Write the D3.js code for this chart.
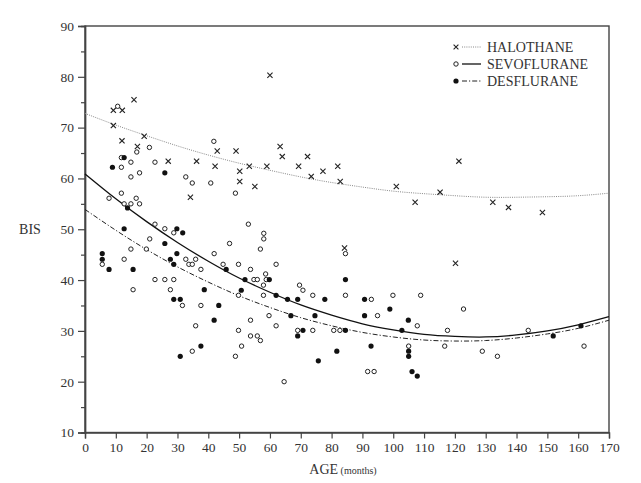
<!DOCTYPE html>
<html><head><meta charset="utf-8">
<script src="https://cdn.jsdelivr.net/npm/d3@7"></script>
<style>body{margin:0;background:#fff}</style>
</head><body><svg id="c" width="641" height="483"></svg>
<script>
const xTicks = [0,10,20,30,40,50,60,70,80,90,100,110,120,130,140,150,160,170];
const yTicks = [10,20,30,40,50,60,70,80,90];
const yMinorTicks = [15,25,35,45,55,65,75,85];
const seriesNames = ["HALOTHANE","SEVOFLURANE","DESFLURANE"];

const halothaneAge = [15.9,9.2,12.1,9.2,12,19.2,42.9,17,27,36.2,42.2,60,49,63.3,64,72.2,53.3,59,69.3,82,50.2,77.2,73.4,50.2,55.1,82.8,101,121.3,132.3,137.4,148.4,115.2,107.1,84.2,120.2,34.2];
const halothaneBIS = [75.5,73.4,73.4,70.4,67.4,68.3,65.4,66.3,63.4,63.4,62.4,80.3,65.4,66.3,64.3,64.3,62.4,62.4,62.4,62.4,61.4,61.4,60.4,59.4,58.4,59.4,58.4,63.4,55.3,54.3,53.3,57.3,55.3,46.3,43.3,56.3];

const sevoAge = [10.6,41.8,20.9,16.8,11.8,14.9,22.7,11.8,17.7,14.9,32.7,34.8,40.8,48.8,11.8,7.8,12.7,16.6,14.9,17.7,22.7,25.9,28.8,21,14.9,19.9,41.9,12.7,32.7,35.9,5.6,33.7,34.8,37.6,22.7,25.9,28.8,15.6,27.7,31.6,37.6,53,58,58,46.9,56.9,44.8,49.8,62,53.7,58.6,54.8,55.9,58.8,57.9,69.6,70.7,49.8,57.9,73.9,84.5,84.5,92.9,99.9,108.9,122.8,35.9,34.8,53.7,59.7,49.8,62,69,73.9,80.7,82.7,53.7,55.9,56.9,50.8,48.8,64.6,94.9,107.8,117.6,105,116.7,91.7,93.8,128.9,133.8,143.8,161.9];
const sevoBIS = [74.2,67.3,66.1,65.2,64.1,63.2,63.2,62.2,61.1,60.3,60.3,59.1,59.1,57.1,57.1,56.1,55.0,56.1,55.0,55.0,51.0,50.1,49.3,48.1,46.1,46.1,45.2,44.1,44.1,44.1,43.1,43.1,43.1,42.1,40.1,40.1,40.1,38.1,38.1,35.0,35.0,51.0,49.2,48.1,47.2,46.1,43.1,43.1,43.1,42.1,41.2,40.1,40.1,40.1,39.0,39.0,38.0,37.0,37.0,37.0,45.2,37.0,36.2,37.0,37.0,34.3,31.0,26.0,32.1,33.0,30.1,31.0,30.1,30.1,30.1,30.1,29.0,29.0,28.1,27.0,25.0,20.0,33.0,31.0,30.1,27.0,27.0,22.0,22.0,26.0,25.0,30.1,27.0];

const desAge = [12.7,8.9,25.9,13.8,12.7,29.8,31.7,25.9,5.6,29.8,5.6,27.7,28.8,7.8,15.6,38.7,28.8,30.9,43.4,45.8,51.9,59.8,50.7,62,65.7,69,77.8,84.5,90.7,98.9,41.9,37.6,30.9,66.8,74.6,70.7,69,81.7,75.7,90.7,104.9,84.5,102.8,92.8,105,105,106.1,107.8,151.9,160.9];
const desBIS = [64.1,62.2,61.1,54.2,50.1,50.1,49.3,47.2,45.2,45.2,44.1,44.1,43.1,42.1,42.1,38.1,36.2,36.2,35.0,42.1,40.1,40.1,38.0,37.0,36.2,36.2,36.2,40.1,36.2,34.3,32.1,27.0,25.0,33.0,33.0,30.1,29.0,26.0,24.1,33.0,32.1,30.1,30.1,27.0,26.0,25.0,22.0,21.1,29.0,31.0];

const fitAge = [0,10,20,30,40,50,60,70,80,90,100,110,120,130,140,150,160,170];
const halothaneFit = [72.8,70.5,68.4,66.4,64.6,63.0,61.6,60.3,59.2,58.3,57.5,57.0,56.6,56.3,56.3,56.4,56.6,57.1];
const sevoFit = [60.9,56.0,51.5,47.4,43.7,40.4,37.6,35.1,33.1,31.4,30.2,29.3,28.9,28.8,29.2,30.0,31.2,32.8];
const desFit = [53.9,49.8,46.0,42.6,39.6,36.9,34.6,32.6,31.0,29.7,28.8,28.2,28.0,28.1,28.6,29.4,30.5,32.1];

const svg = d3.select("#c");
const L=85, R=609, T=26, B=432.5;
const x = d3.scaleLinear().domain([0,170]).range([L,R]);
const y = d3.scaleLinear().domain([10,90]).range([B,T]);
const font = "'Liberation Serif','Times New Roman',serif";

// frame
svg.append("rect").attr("x",L).attr("y",T).attr("width",R-L).attr("height",B-T)
  .attr("fill","none").attr("stroke","#444").attr("stroke-width",1.4);

// axes
const xAxis = d3.axisBottom(x).tickValues(xTicks).tickSize(6).tickPadding(4);
const gx = svg.append("g").attr("transform",`translate(0,${B})`).call(xAxis);
const yAxis = d3.axisLeft(y).tickValues(yTicks).tickSize(7).tickPadding(4);
const gy = svg.append("g").attr("transform",`translate(${L},0)`).call(yAxis);
const yMinor = d3.axisLeft(y).tickValues(yMinorTicks).tickSize(4).tickFormat("");
const gym = svg.append("g").attr("transform",`translate(${L},0)`).call(yMinor);
[gx,gy,gym].forEach(g=>{
  g.select(".domain").attr("stroke","#444").attr("stroke-width",1.4);
  g.selectAll(".tick line").attr("stroke","#444").attr("stroke-width",1.2);
  g.selectAll("text").attr("font-family",font).attr("font-size",13.5).attr("fill","#333");
});

// axis titles
svg.append("text").attr("x",30).attr("y",234).attr("text-anchor","middle")
  .attr("font-family",font).attr("font-size",14).attr("fill","#333").text("BIS");
const xt = svg.append("text").attr("x",343).attr("y",474).attr("text-anchor","middle")
  .attr("font-family",font).attr("font-size",14).attr("fill","#333");
xt.append("tspan").text("AGE");
xt.append("tspan").attr("font-size",10).text(" (months)");

// fit lines
const line = d3.line().x(d=>x(d[0])).y(d=>y(d[1])).curve(d3.curveNatural);
const styles = [
  {fit:halothaneFit, stroke:"#888", w:1, dash:"1,1.2"},
  {fit:sevoFit, stroke:"#111", w:1.3, dash:null},
  {fit:desFit, stroke:"#222", w:1, dash:"5,2,1.2,2"}
];
styles.forEach(s=>{
  svg.append("path").datum(fitAge.map((a,i)=>[a,s.fit[i]]))
    .attr("d",line).attr("fill","none").attr("stroke",s.stroke)
    .attr("stroke-width",s.w).attr("stroke-dasharray",s.dash);
});

// points
function cross(g,cx,cy,r){
  g.append("path").attr("d",`M${cx-r},${cy-r}L${cx+r},${cy+r}M${cx-r},${cy+r}L${cx+r},${cy-r}`)
   .attr("stroke","#222").attr("stroke-width",1.1).attr("fill","none");
}
const gp = svg.append("g");
halothaneAge.forEach((a,i)=>cross(gp,x(a),y(halothaneBIS[i]),2.6));
gp.selectAll("circle.sevo").data(sevoAge.map((a,i)=>[a,sevoBIS[i]])).enter().append("circle")
  .attr("class","sevo").attr("cx",d=>x(d[0])).attr("cy",d=>y(d[1])).attr("r",2.2)
  .attr("fill","#fff").attr("stroke","#222").attr("stroke-width",1);
gp.selectAll("circle.des").data(desAge.map((a,i)=>[a,desBIS[i]])).enter().append("circle")
  .attr("class","des").attr("cx",d=>x(d[0])).attr("cy",d=>y(d[1])).attr("r",2.6)
  .attr("fill","#111");

// legend
const lg = svg.append("g");
const ly = [47,64,81];
cross(lg,456,ly[0],2.4);
lg.append("circle").attr("cx",456).attr("cy",ly[1]).attr("r",2.2).attr("fill","#fff").attr("stroke","#222");
lg.append("circle").attr("cx",456).attr("cy",ly[2]).attr("r",2.6).attr("fill","#111");
styles.forEach((s,i)=>{
  lg.append("line").attr("x1",462).attr("x2",481).attr("y1",ly[i]).attr("y2",ly[i])
    .attr("stroke",s.stroke).attr("stroke-width",s.w).attr("stroke-dasharray",s.dash);
  lg.append("text").attr("x",487).attr("y",ly[i]+5).attr("font-family",font).attr("font-size",14)
    .attr("fill","#333").text(seriesNames[i]);
});
</script></body></html>
